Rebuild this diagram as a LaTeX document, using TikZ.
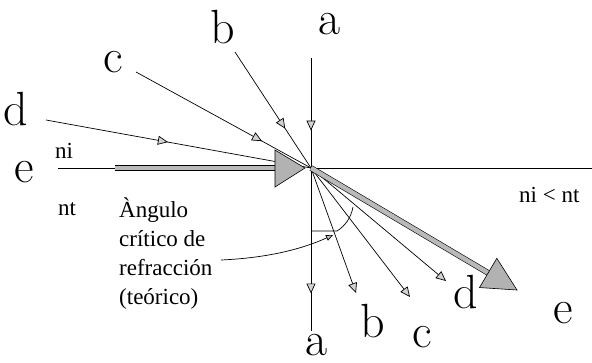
\documentclass[tikz,border=0pt]{standalone}
\usepackage{fontspec}
\newfontfamily\timesf{Liberation Serif}
\usetikzlibrary{arrows.meta,decorations.markings,calc}
\tikzset{
  ray/.style={draw=black,line width=0.7pt},
  opentip/.style={-{Triangle[length=10pt,width=9pt,fill=gray!35]}},
  midtip/.style={postaction={decorate},decoration={markings,
      mark=at position #1 with {\arrow{Triangle[length=10pt,width=9pt,fill=gray!35]}}}},
  bigletter/.style={font=\fontsize{48}{48}\selectfont,anchor=base,inner sep=0pt},
  smalltext/.style={font=\timesf\fontsize{23}{29}\selectfont,anchor=base west,inner sep=0pt},
  thickray/.style={draw=black,line width=0.6pt,double=gray!55,double distance=4.5pt},
  bighead/.style={draw=black,line width=0.6pt,fill=gray!60},
}
\begin{document}
\begin{tikzpicture}[x=1pt,y=-1pt]
\useasboundingbox (0,0) rectangle (592,362);
% key points
\coordinate (O) at (311,168);
\coordinate (ra) at (592,168);
\coordinate (aT) at (311,58);
\coordinate (aB) at (311,331);
\coordinate (bS) at (235,52);
\coordinate (cS) at (136,72);
\coordinate (dS) at (46,120);
\coordinate (eS) at (58,168);
\coordinate (eT) at (115,168);
\coordinate (bE) at (356,293);
\coordinate (cE) at (410,297);
\coordinate (dE) at (446,281);
% interface
\draw[ray] (O) -- (ra);
% incident rays
\draw[ray,midtip=0.66] (aT) -- (O);
\draw[ray,midtip=0.66] (bS) -- (O);
\draw[ray,midtip=0.72] (cS) -- (O);
\draw[ray,midtip=0.46] (dS) -- (O);
% refracted rays
\draw[ray,midtip=0.77] (O) -- (aB);
\draw[ray,opentip] (O) -- (bE);
\draw[ray,opentip] (O) -- (cE);
\draw[ray,opentip] (O) -- (dE);
% ray e incident
\draw[ray] (eS) -- (eT);
\coordinate (eH) at (277,168);
\draw[thickray] (eT) -- (eH);
\draw[bighead] (305,168) -- (275,150) -- (275,187) -- cycle;
% ray e refracted
\coordinate (eR) at (517,290);
\coordinate (eRb) at ($(O)!0.86!(eR)$);
\draw[thickray] (O) -- (eRb);
\draw[bighead] (eR) -- ($(eRb)!17pt!90:(eR)$) -- ($(eRb)!17pt!-90:(eR)$) -- cycle;
% critical angle mark
\coordinate (k1) at (311,231);
\coordinate (k2) at (337,231);
\coordinate (k3) at (353,207);
\draw[ray] (k1) -- (k2) .. controls (345,226) and (351,218) .. (k3);
% labels
\node[bigletter] (la1) at (330,34) {a};
\node[bigletter] (lb1) at (223,43) {b};
\node[bigletter] (lc1) at (113,72) {c};
\node[bigletter] (ld1) at (16,125) {d};
\node[bigletter] (le1) at (24,182) {e};
\node[bigletter] (la2) at (317,355) {a};
\node[bigletter] (lb2) at (373,337) {b};
\node[bigletter] (lc2) at (422,347) {c};
\node[bigletter] (ld2) at (466,308) {d};
\node[bigletter] (le2) at (563,323) {e};
\node[smalltext] (ni) at (55,158) {ni};
\node[smalltext] (nt) at (58,215) {nt};
\node[smalltext] (rel) at (519,202) {ni < nt};
\node[smalltext,align=left,anchor=north west] (ang) at (119,198) {Àngulo\\crítico de\\refracción\\(teórico)};
% pointer
\coordinate (pS) at (221,260);
\coordinate (pE) at (333,235);
\draw[ray,-{Triangle[length=7pt,width=6pt,fill=gray!50]}] (pS) .. controls (265,258) and (300,250) .. (pE);
\end{tikzpicture}
\end{document}
